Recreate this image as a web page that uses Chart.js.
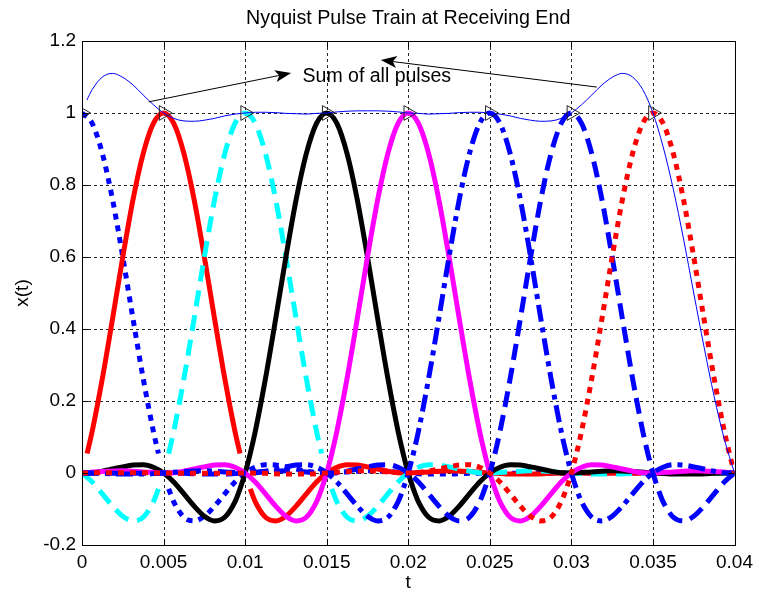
<!DOCTYPE html>
<html>
<head>
<meta charset="utf-8">
<title>Nyquist Pulse Train at Receiving End</title>
<script src="https://cdn.jsdelivr.net/npm/chart.js@4.4.1/dist/chart.umd.min.js"></script>
<style>
  html, body { margin: 0; padding: 0; background: #fff; }
  #chart { display: block; }
</style>
</head>
<body>
<canvas id="chart" width="759" height="597"></canvas>
<script>
const symbolPeriod = 0.005;
const pulseCenters = [0, 0.005, 0.01, 0.015, 0.02, 0.025, 0.03, 0.035];
const pulseColors = ['#0000ff', '#ff0000', '#00ffff', '#000000', '#ff00ff', '#0000ff', '#0000ff', '#ff0000'];
const pulseDashes = [[6, 6], [], [16, 9], [], [], [17, 6, 5, 6], [16, 8], [6, 6]];
// these pulses lost their sample at +-T (0/0 in the pulse formula)
const gapPulses = [0, 1, 2];

// shape of one pulse: offset from its peak in symbol periods -> amplitude
// (right half only, the left half is the mirror image)
const shapeOffsets = [0, 0.125, 0.25, 0.375, 0.5, 0.625, 0.75, 0.875, 0.9375, 1,
  1.0625, 1.125, 1.25, 1.375, 1.5, 1.625, 1.75, 1.875, 2,
  2.125, 2.25, 2.375, 2.5, 2.625, 2.75, 2.875, 3,
  3.25, 3.5, 3.75, 4, 4.25, 4.5, 4.75, 5, 5.5, 6, 6.5, 7, 7.5, 8];
const shapeValues = [1, 0.971, 0.887, 0.759, 0.600, 0.429, 0.263, 0.116, 0.054, 0,
  -0.044, -0.080, -0.123, -0.133, -0.120, -0.092, -0.058, -0.025, 0,
  0.016, 0.023, 0.022, 0.017, 0.011, 0.005, 0.001, 0,
  0.003, 0.006, 0.004, 0, -0.003, -0.003, -0.001, 0, -0.001, 0, 0.001, 0, 0.001, 0];

// sum of all pulses, sampled every T/8 (plus one point just after t = 0)
const sumTimes = [0.0003].concat(Array.from({ length: 64 }, (_, i) => (i + 1) * 0.000625));
const sumValues = [1.036,
  1.065, 1.100, 1.110, 1.099, 1.078, 1.050, 1.023, 1.000,
  0.985, 0.978, 0.977, 0.980, 0.985, 0.992, 0.997, 1.000,
  1.002, 1.002, 1.001, 0.999, 0.998, 0.997, 0.999, 1.000,
  1.003, 1.005, 1.006, 1.006, 1.006, 1.005, 1.003, 1.000,
  0.999, 0.997, 0.998, 0.999, 1.001, 1.002, 1.002, 1.000,
  0.997, 0.992, 0.985, 0.980, 0.977, 0.978, 0.985, 1.000,
  1.023, 1.050, 1.078, 1.099, 1.110, 1.100, 1.065, 1.000,
  0.906, 0.788, 0.650, 0.500, 0.352, 0.213, 0.094, 0.000];

// sample instants
const markerTimes = [0, 0.005, 0.01, 0.015, 0.02, 0.025, 0.03, 0.035];
const markerValues = [1, 1, 1, 1, 1, 1, 1, 1];

const xTickValues = [0, 0.005, 0.01, 0.015, 0.02, 0.025, 0.03, 0.035, 0.04];
const xTickLabels = ['0', '0.005', '0.01', '0.015', '0.02', '0.025', '0.03', '0.035', '0.04'];
const yTickValues = [-0.2, 0, 0.2, 0.4, 0.6, 0.8, 1, 1.2];
const yTickLabels = ['-0.2', '0', '0.2', '0.4', '0.6', '0.8', '1', '1.2'];

const titleText = 'Nyquist Pulse Train at Receiving End';
const FONT = 'Liberation Sans, Arial, sans-serif';
const tStart = 0, tEnd = 0.04;

function pulsePoints(center, k) {
  const hasGap = gapPulses.includes(k);
  const val = i => (hasGap && shapeOffsets[i] === 1) ? null : shapeValues[i];
  const pts = [];
  for (let i = shapeOffsets.length - 1; i > 0; i--) {
    pts.push({ x: center - shapeOffsets[i] * symbolPeriod, y: val(i) });
  }
  for (let i = 0; i < shapeOffsets.length; i++) {
    pts.push({ x: center + shapeOffsets[i] * symbolPeriod, y: val(i) });
  }
  return pts.filter(p => p.x > tStart - 1e-9 && p.x < tEnd + 1e-9);
}

const pulseSets = pulseCenters.map((c, k) => ({
  label: 'pulse ' + (k + 1),
  data: pulsePoints(c, k),
  borderColor: pulseColors[k],
  borderWidth: 5,
  borderDash: pulseDashes[k],
  borderCapStyle: 'butt',
  borderJoinStyle: 'round',
  cubicInterpolationMode: 'monotone',
  pointRadius: 0,
  fill: false
}));

const sumSet = {
  label: 'sum',
  data: sumTimes.map((t, i) => ({ x: t, y: sumValues[i] })),
  borderColor: '#0000ff',
  borderWidth: 1,
  cubicInterpolationMode: 'monotone',
  pointRadius: 0,
  fill: false
};

const markerSet = {
  label: 'samples',
  data: markerTimes.map((t, i) => ({ x: t, y: markerValues[i] })),
  showLine: false,
  pointStyle: 'triangle',
  rotation: 90,
  pointRadius: 8.5,
  pointBorderColor: '#222222',
  pointBackgroundColor: 'rgba(0,0,0,0)',
  pointBorderWidth: 1
};

// grid, box and inward tick marks like a classic plot window
const axesBox = {
  id: 'axesBox',
  beforeDatasetsDraw(chart) {
    const { ctx, chartArea: a, scales: { x, y } } = chart;
    ctx.save();
    ctx.strokeStyle = 'rgba(0,0,0,0.85)';
    ctx.lineWidth = 1;
    ctx.setLineDash([3, 3]);
    ctx.beginPath();
    xTickValues.forEach(v => {
      const px = Math.round(x.getPixelForValue(v)) + 0.5;
      ctx.moveTo(px, a.top);
      ctx.lineTo(px, a.bottom);
    });
    yTickValues.forEach(v => {
      const py = Math.round(y.getPixelForValue(v)) + 0.5;
      ctx.moveTo(a.left, py);
      ctx.lineTo(a.right, py);
    });
    ctx.stroke();
    ctx.restore();
  },
  afterDraw(chart) {
    const { ctx, chartArea: a, scales: { x, y } } = chart;
    const len = 6;
    ctx.save();
    ctx.strokeStyle = '#000';
    ctx.lineWidth = 1;
    ctx.setLineDash([]);
    ctx.beginPath();
    xTickValues.forEach(v => {
      const px = Math.round(x.getPixelForValue(v)) + 0.5;
      ctx.moveTo(px, a.bottom);
      ctx.lineTo(px, a.bottom - len);
      ctx.moveTo(px, a.top);
      ctx.lineTo(px, a.top + len);
    });
    yTickValues.forEach(v => {
      const py = Math.round(y.getPixelForValue(v)) + 0.5;
      ctx.moveTo(a.left, py);
      ctx.lineTo(a.left + len, py);
      ctx.moveTo(a.right, py);
      ctx.lineTo(a.right - len, py);
    });
    ctx.stroke();
    ctx.strokeRect(Math.round(a.left) + 0.5, Math.round(a.top) + 0.5,
      Math.round(a.right - a.left), Math.round(a.bottom - a.top));

    // title centred over the plot box
    ctx.fillStyle = '#000';
    ctx.font = '19.7px ' + FONT;
    ctx.textAlign = 'center';
    ctx.textBaseline = 'middle';
    ctx.fillText(titleText, (a.left + a.right) / 2, 19);
    ctx.restore();
  }
};

// "Sum of all pulses" text with its two arrows (data coordinates)
const noteText = 'Sum of all pulses';
const notePos = [0.01352, 1.087];
const arrows = [
  { from: [0.00409, 1.031], to: [0.01282, 1.111] },
  { from: [0.03156, 1.072], to: [0.01832, 1.147] }
];

function drawArrow(ctx, x1, y1, x2, y2) {
  const ang = Math.atan2(y2 - y1, x2 - x1);
  const headLen = 16, headHalf = 6, notch = 4;
  const cx = x2 - Math.cos(ang) * (headLen - notch), cy = y2 - Math.sin(ang) * (headLen - notch);
  ctx.beginPath();
  ctx.moveTo(x1, y1);
  ctx.lineTo(cx, cy);
  ctx.stroke();
  const bx = x2 - Math.cos(ang) * headLen, by = y2 - Math.sin(ang) * headLen;
  const nx = -Math.sin(ang), ny = Math.cos(ang);
  ctx.beginPath();
  ctx.moveTo(x2, y2);
  ctx.lineTo(bx + nx * headHalf, by + ny * headHalf);
  ctx.lineTo(cx, cy);
  ctx.lineTo(bx - nx * headHalf, by - ny * headHalf);
  ctx.closePath();
  ctx.fill();
}

const annotations = {
  id: 'annotations',
  afterDatasetsDraw(chart) {
    const { ctx, scales: { x, y } } = chart;
    ctx.save();
    ctx.strokeStyle = '#000';
    ctx.fillStyle = '#000';
    ctx.lineWidth = 1;
    arrows.forEach(a => {
      drawArrow(ctx, x.getPixelForValue(a.from[0]), y.getPixelForValue(a.from[1]),
        x.getPixelForValue(a.to[0]), y.getPixelForValue(a.to[1]));
    });
    ctx.font = '19.5px ' + FONT;
    ctx.textBaseline = 'alphabetic';
    ctx.textAlign = 'left';
    ctx.fillText(noteText, x.getPixelForValue(notePos[0]), y.getPixelForValue(notePos[1]));
    ctx.restore();
  }
};

const tickFont = { family: FONT, size: 19 };

new Chart(document.getElementById('chart'), {
  type: 'line',
  data: {
    datasets: [markerSet, sumSet].concat(pulseSets.slice().reverse())
  },
  options: {
    responsive: false,
    devicePixelRatio: 1,
    animation: false,
    layout: { padding: { left: 0, right: 21, top: 41, bottom: 0 } },
    plugins: {
      legend: { display: false },
      tooltip: { enabled: false },
      title: { display: false }
    },
    scales: {
      x: {
        type: 'linear',
        min: tStart,
        max: tEnd,
        afterBuildTicks: s => { s.ticks = xTickValues.map(v => ({ value: v })); },
        afterFit: s => { s.height = 52; },
        grid: { display: false, drawTicks: false },
        border: { display: false },
        ticks: {
          color: '#000',
          font: tickFont,
          padding: 6,
          maxRotation: 0,
          autoSkip: false,
          callback: (v, i) => xTickLabels[i]
        },
        title: {
          display: true,
          text: 't',
          color: '#000',
          font: tickFont,
          padding: { top: 0, bottom: 3 }
        }
      },
      y: {
        type: 'linear',
        min: -0.2,
        max: 1.2,
        afterBuildTicks: s => { s.ticks = yTickValues.map(v => ({ value: v })); },
        afterFit: s => { s.width = 82; },
        grid: { display: false, drawTicks: false },
        border: { display: false },
        ticks: {
          color: '#000',
          font: tickFont,
          padding: 6,
          autoSkip: false,
          callback: (v, i) => yTickLabels[i]
        },
        title: {
          display: true,
          text: 'x(t)',
          color: '#000',
          font: tickFont,
          padding: { top: 11, bottom: 0 }
        }
      }
    }
  },
  plugins: [axesBox, annotations]
});
</script>
</body>
</html>
